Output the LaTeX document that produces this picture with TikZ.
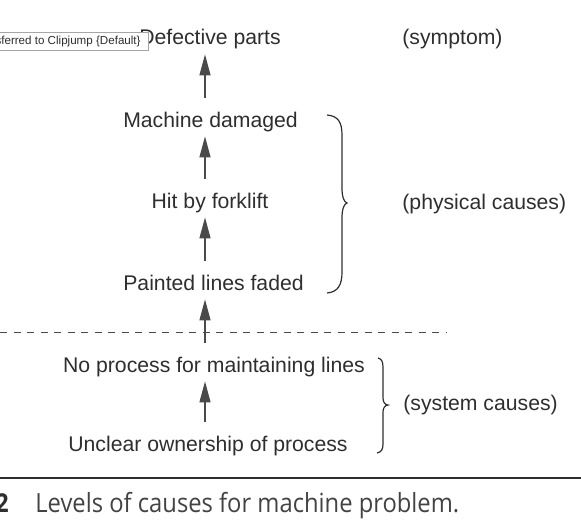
\documentclass[tikz,border=0pt]{standalone}
\usepackage{fontspec}
\setmainfont{Liberation Sans}
\newfontfamily\capfont[FakeStretch=0.9]{Open Sans}
\usetikzlibrary{arrows.meta}
\definecolor{inkgray}{HTML}{2E2E2E}
\definecolor{arrowgray}{HTML}{4A4A4A}

\begin{document}
\begin{tikzpicture}[x=0.5pt, y=-0.5pt,
    cause/.style={anchor=base, inner sep=0pt, text height=7.65pt, text depth=2.25pt,
      font=\fontsize{10.6pt}{12pt}\selectfont, text=inkgray},
    level/.style={anchor=base west, inner sep=0pt, font=\fontsize{10.6pt}{12pt}\selectfont, text=inkgray},
    up/.style={-{Triangle[length=10.5pt,width=5.5pt]}, line width=0.65pt, draw=arrowgray,
      shorten <=6.5pt, shorten >=2.25pt},
    brace/.style={line width=0.6pt, draw=inkgray}]
        \useasboundingbox (0,0) rectangle (581,524);
        \clip (0,0) rectangle (581,524);

        % chain of causes
        \node[cause] (defective) at (210,45) {Defective parts};
        \node[cause] (damaged) at (210.5,127) {Machine damaged};
        \node[cause] (forklift) at (210,208) {Hit by forklift};
        \node[cause] (faded) at (213.5,290) {Painted lines faded};
        \node[cause] (noprocess) at (214,372) {No process for maintaining lines};
        \node[cause] (ownership) at (208,451) {Unclear ownership of process};

        \coordinate (axis) at (205,0);
        \draw[up] (damaged.north -| axis) -- (defective.south -| axis);
        \draw[up] (forklift.north -| axis) -- (damaged.south -| axis);
        \draw[up] (faded.north -| axis) -- (forklift.south -| axis);
        \draw[up] (noprocess.north -| axis) -- (faded.south -| axis);
        \draw[up] (ownership.north -| axis) -- (noprocess.south -| axis);

        % levels
        \node[level] (symptom) at (402,45) {(symptom)};
        \node[level] (physical) at (402,209) {(physical causes)};
        \node[level] (system) at (403,410) {(system causes)};

        \draw[brace] (327,115) .. controls (338,116) and (342,122) .. (342,135) -- (342,188)
            .. controls (342,197) and (344,202) .. (347,203) .. controls (344,204) and (342,209) .. (342,218)
            -- (342,272) .. controls (342,285) and (338,292) .. (327,293);
        \draw[brace] (378,358) .. controls (382,359) and (383,362) .. (383,368) -- (383,398)
            .. controls (383,402) and (385,405) .. (388,405) .. controls (385,405) and (383,408) .. (383,412)
            -- (383,444) .. controls (383,450) and (381,452) .. (377,453);

        \draw[arrowgray, line width=0.5pt, dash pattern=on 3.5pt off 3.25pt] (0,332) -- (446,332);

        % tooltip over the first label
        \node[anchor=base east, draw=gray!70, fill=white, inner xsep=4pt, inner ysep=2pt,
          text height=4.5pt, text depth=0.5pt, font=\fontsize{5.8pt}{7pt}\selectfont, text=inkgray]
          (clipjump) at (149,45) {sferred to Clipjump \{Default\}};

        % caption
        \draw[inkgray, line width=1pt] (0,478) -- (581,478);
        \node[anchor=base west, inner sep=0pt, font=\capfont\bfseries\fontsize{13pt}{15pt}\selectfont, text=inkgray]
          (fignum) at (-5,512) {2};
        \node[anchor=base west, inner sep=0pt, font=\capfont\fontsize{13.2pt}{15pt}\selectfont, text=inkgray!90]
          (caption) at (35,512) {Levels of causes for machine problem.};
\end{tikzpicture}
\end{document}
